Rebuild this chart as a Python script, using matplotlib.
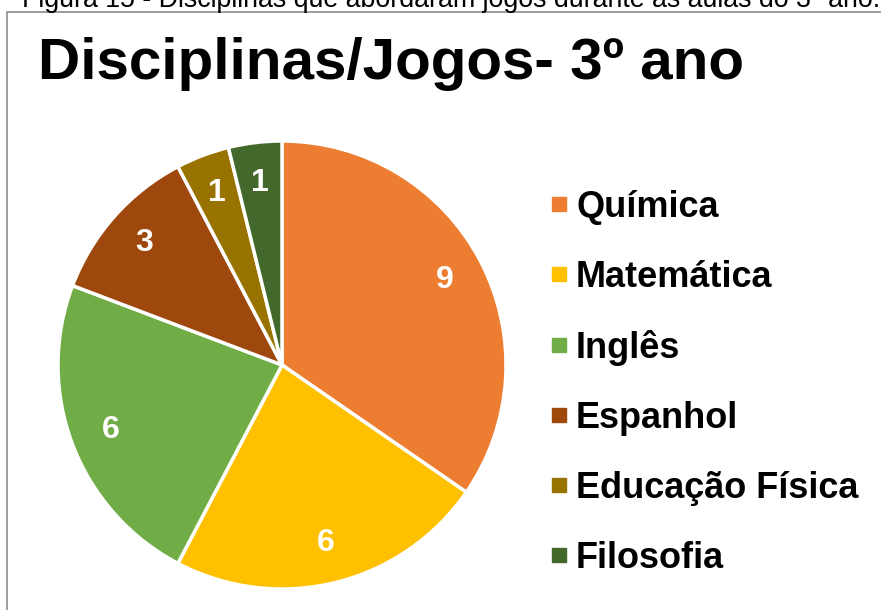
import matplotlib.pyplot as plt
from matplotlib.lines import Line2D
from matplotlib.patches import Rectangle

# dados
disciplinas = ['Química', 'Matemática', 'Inglês', 'Espanhol', 'Educação Física', 'Filosofia']
valores = [9, 6, 6, 3, 1, 1]
cores = ['#ED7D31', '#FFC000', '#70AD47', '#9E480E', '#997300', '#43682B']

plt.rcParams['font.family'] = ['Liberation Sans', 'DejaVu Sans']

W, H = 881, 610
fig = plt.figure(figsize=(W / 100, H / 100), dpi=100)

# legenda da figura (cortada no topo)
fig.text(451 / W, 1 - 7 / H, 'Figura 15 - Disciplinas que abordaram jogos durante as aulas do 3º ano.',
         ha='center', va='baseline', fontsize=19.3)

# moldura cinza
fig.patches.append(Rectangle((7 / W, -0.01), 1.0, 1 - 12 / H + 0.01, transform=fig.transFigure,
                             fill=False, edgecolor='#8c8c8c', lw=1.2))

fig.text(38 / W, 1 - 64 / H, 'Disciplinas/Jogos- 3º ano', ha='left', va='center',
         fontsize=42, fontweight='bold')

# pizza
cx, cy, r = 282, 365, 224
ax = fig.add_axes([(cx - r) / W, (H - cy - r) / H, 2 * r / W, 2 * r / H])
wedges, textos = ax.pie(valores, colors=cores, startangle=90, counterclock=False,
                        labels=[str(v) for v in valores], labeldistance=0.82,
                        wedgeprops=dict(edgecolor='white', linewidth=2.5))
for t in textos:
    t.set_color('white')
    t.set_fontsize(23)
    t.set_fontweight('bold')
    t.set_ha('center')
    t.set_va('center')
ax.set_xlim(-1, 1)
ax.set_ylim(-1, 1)
ax.set_aspect('auto')
ax.axis('off')

handles = [Line2D([], [], marker='s', linestyle='none', markersize=9.5, color=c) for c in cores]
fig.legend(handles, disciplinas, loc='center left', bbox_to_anchor=(550 / W, 1 - 383 / H),
           frameon=False, prop={'weight': 'bold', 'size': 26},
           labelspacing=0.97, handlelength=0.5, handletextpad=0.22,
           borderpad=0, borderaxespad=0)

fig.savefig('out.png', dpi=100)
